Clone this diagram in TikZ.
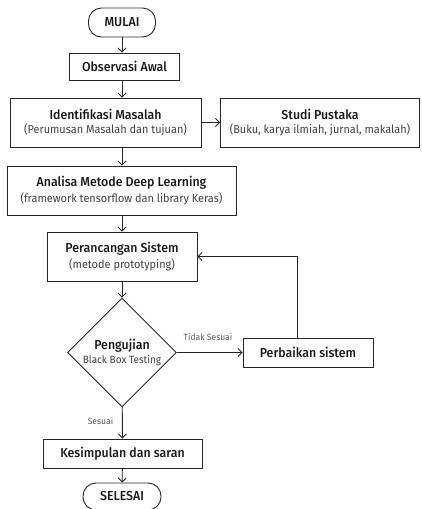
\documentclass[tikz,border=0pt]{standalone}
\usepackage{fontspec}
\setmainfont{Fira Sans}[FakeStretch=0.95,BoldFont={Fira Sans Medium}]
\usepackage{tikz}
\usetikzlibrary{shapes.geometric,arrows.meta}

\tikzset{
  kotak/.style={draw=black!85,line width=0.9pt,rectangle,inner sep=0pt,align=center,text=black!90},
  terminal/.style={kotak,rounded corners=13pt},
  keputusan/.style={draw=black!85,line width=0.9pt,diamond,aspect=1,inner sep=0pt,align=center,text=black!90},
  panah/.style={line width=0.9pt,draw=black!85,-{Straight Barb[length=4pt,width=8pt]}},
  judul/.style={font=\bfseries\fontsize{13}{14}\selectfont},
  ket/.style={font=\fontsize{9}{10}\selectfont,text=black!65}
}
\newcommand{\sub}[1]{{\fontsize{11.5}{12}\selectfont\color{black!75}#1}}

\begin{document}
\begin{tikzpicture}[x=1pt,y=-1pt]
\useasboundingbox (0,0) rectangle (421,509);

% alur utama
\node[terminal,minimum width=67pt,minimum height=29pt,judul] (mulai) at (122,22.5) {MULAI};
\node[kotak,minimum width=110pt,minimum height=27pt,judul] (obs) at (124.5,66.5) {Observasi Awal};
\node[kotak,minimum width=191pt,minimum height=49pt] (ident) at (105.5,122.5)
  {{\bfseries\fontsize{13}{14}\selectfont Identifikasi Masalah}\\[2pt]\sub{(Perumusan Masalah dan tujuan)}};
\node[kotak,minimum width=199pt,minimum height=49pt] (studi) at (320,122.5)
  {{\bfseries\fontsize{13}{14}\selectfont Studi Pustaka}\\[2pt]\sub{(Buku, karya ilmiah, jurnal, makalah)}};
\node[kotak,minimum width=229pt,minimum height=49pt] (analisa) at (121.5,190.5)
  {{\bfseries\fontsize{13}{14}\selectfont Analisa Metode Deep Learning}\\[2pt]\sub{(framework tensorflow dan library Keras)}};
\node[kotak,minimum width=150pt,minimum height=49pt] (peran) at (122,256.5)
  {{\bfseries\fontsize{13}{14}\selectfont Perancangan Sistem}\\[2pt]\sub{(metode prototyping)}};
\node[keputusan,minimum width=109pt,minimum height=109pt] (uji) at (122,352.5)
  {{\bfseries\fontsize{13}{14}\selectfont Pengujian}\\[2pt]{\fontsize{10.5}{11}\selectfont\color{black!75}Black Box Testing}};
\node[kotak,minimum width=130pt,minimum height=29pt,judul] (perb) at (308,352.5) {Perbaikan sistem};
\node[kotak,minimum width=159pt,minimum height=29pt,judul] (kesim) at (122.5,453.5) {Kesimpulan dan saran};
\node[terminal,minimum width=78pt,minimum height=27pt,judul] (selesai) at (122,496.5) {SELESAI};

% penghubung
\draw[panah] (mulai) -- (mulai |- obs.north);
\draw[panah] (mulai |- obs.south) -- (mulai |- ident.north);
\draw[panah] (ident.east) -- (studi.west);
\draw[panah] (mulai |- ident.south) -- (mulai |- analisa.north);
\draw[panah] (mulai |- analisa.south) -- (peran);
\draw[panah] (peran) -- (uji);
\draw[panah] (uji.east) -- (perb.west);
\draw[panah] ([xshift=-11pt]perb.north) |- (peran.east);
\draw[panah] (uji) -- (kesim);
\draw[panah] (kesim) -- (selesai);

% label cabang
\node[ket] (tidak) at (208,337.5) {Tidak Sesuai};
\node[ket] (sesuai) at (100.5,421) {Sesuai};
\end{tikzpicture}
\end{document}
